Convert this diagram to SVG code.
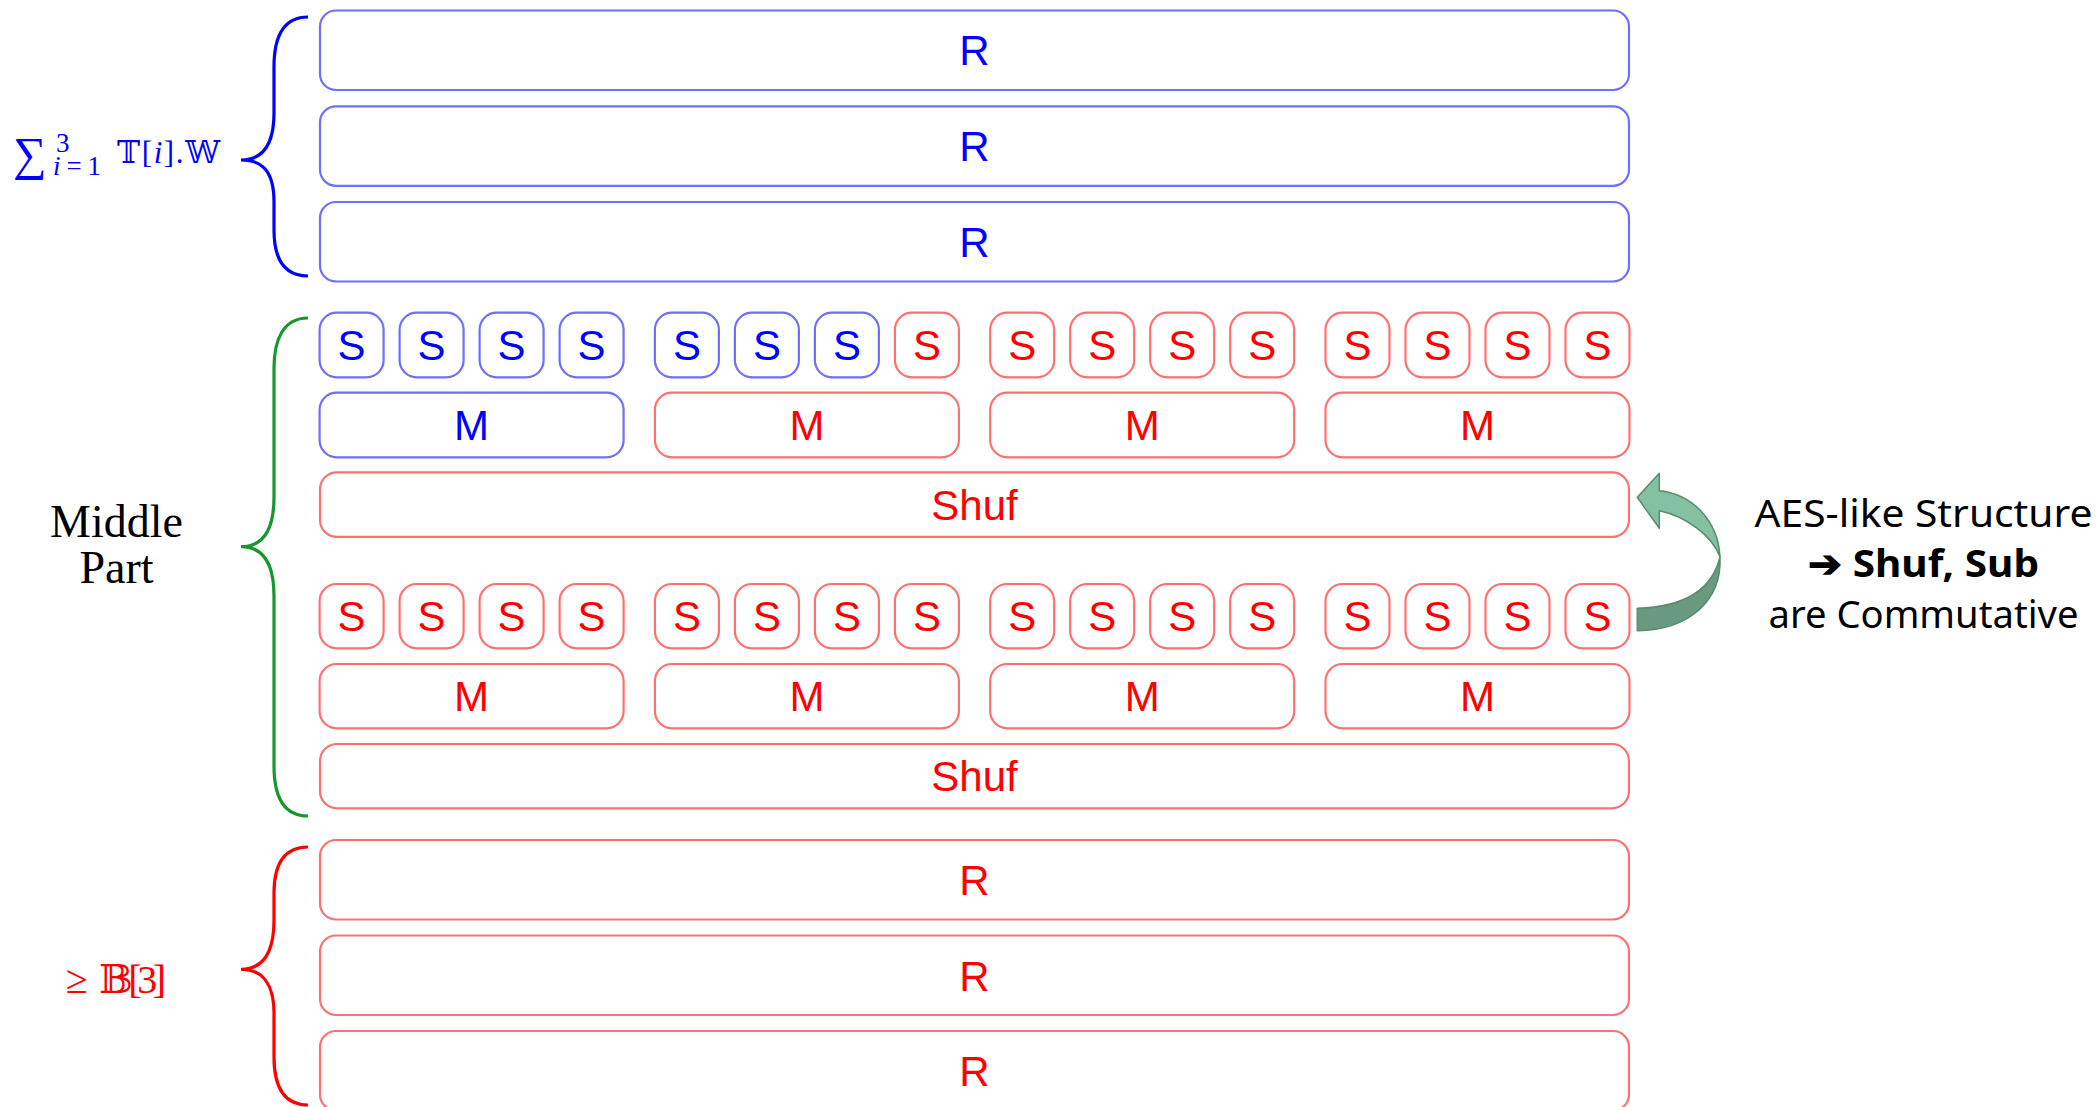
<svg xmlns="http://www.w3.org/2000/svg" width="2097" height="1107" viewBox="0 0 2097 1107">
<style>
.bb{fill:#fff;stroke:#6f6fff;stroke-width:2.2}
.rb{fill:#fff;stroke:#ff7070;stroke-width:2.2}
.bt{fill:#0000ff;font-family:"Liberation Sans",Arial,sans-serif;font-size:42px;text-anchor:middle}
.rt{fill:#ff0000;font-family:"Liberation Sans",Arial,sans-serif;font-size:42px;text-anchor:middle}
.brace{fill:none;stroke-width:3.2;stroke-linecap:butt}
.math{font-family:"Liberation Serif","DejaVu Serif",serif}
.note{fill:#000;font-family:"Noto Sans","Liberation Sans",sans-serif;font-size:38px;text-anchor:middle}
</style>
<rect width="2097" height="1107" fill="#fff"/>

<!-- braces and labels -->
<g id="label-top">
<path class="brace" stroke="#0000ff" d="M308,17 C283,17 274,38 274,67 L274,113 C274,145 263,160 241,160 C263,160 274,172 274,202 L274,230 C274,258 283,276 308,276"/>
<text class="math" x="13" y="170" font-size="47" fill="#0000ff">∑</text>
<text class="math" x="56" y="152" font-size="27" fill="#0000ff">3</text>
<text class="math" x="53" y="175" font-size="27" fill="#0000ff" textLength="48"><tspan font-style="italic">i</tspan>=1</text>
<text class="math" x="117" y="163" font-size="31" fill="#0000ff" textLength="103">𝕋[<tspan font-style="italic">i</tspan>].𝕎</text>
</g>
<g id="label-middle">
<path class="brace" stroke="#16982e" d="M308,318 C283,318 274,340 274,368 L274,497 C274,530 263,546.7 241,546.7 C263,546.7 274,563 274,596 L274,766 C274,796 283,816 308,816"/>
<text class="math" x="116.5" y="536.7" font-size="46" fill="#000" text-anchor="middle">Middle</text>
<text class="math" x="116.5" y="582.7" font-size="46" fill="#000" text-anchor="middle">Part</text>
</g>
<g id="label-bottom">
<path class="brace" stroke="#ff0000" d="M308,847 C283,847 274,866 274,893 L274,920 C274,952 263,969.3 241,969.3 C263,969.3 274,985 274,1013 L274,1057 C274,1086 283,1105 308,1105"/>
<text class="math" x="66" y="993" font-size="40" fill="#ff0000" textLength="100">≥ <tspan dx="10">𝔹[3]</tspan></text>
</g>

<!-- top R rounds -->
<g id="r-top-1"><rect class="bb" x="320" y="10.5" width="1309" height="79.5" rx="16"/><text class="bt" x="974.5" y="65.3">R</text></g>
<g id="r-top-2"><rect class="bb" x="320" y="106.3" width="1309" height="79.5" rx="16"/><text class="bt" x="974.5" y="161">R</text></g>
<g id="r-top-3"><rect class="bb" x="320" y="202" width="1309" height="79.5" rx="16"/><text class="bt" x="974.5" y="256.7">R</text></g>

<!-- S row 1 -->
<g id="s1-1"><rect class="bb" x="319.6" y="312.7" width="64" height="64.6" rx="17"/><text class="bt" x="351.6" y="360">S</text></g>
<g id="s1-2"><rect class="bb" x="399.6" y="312.7" width="64" height="64.6" rx="17"/><text class="bt" x="431.6" y="360">S</text></g>
<g id="s1-3"><rect class="bb" x="479.6" y="312.7" width="64" height="64.6" rx="17"/><text class="bt" x="511.6" y="360">S</text></g>
<g id="s1-4"><rect class="bb" x="559.6" y="312.7" width="64" height="64.6" rx="17"/><text class="bt" x="591.6" y="360">S</text></g>
<g id="s1-5"><rect class="bb" x="654.9" y="312.7" width="64" height="64.6" rx="17"/><text class="bt" x="686.9" y="360">S</text></g>
<g id="s1-6"><rect class="bb" x="734.9" y="312.7" width="64" height="64.6" rx="17"/><text class="bt" x="766.9" y="360">S</text></g>
<g id="s1-7"><rect class="bb" x="814.9" y="312.7" width="64" height="64.6" rx="17"/><text class="bt" x="846.9" y="360">S</text></g>
<g id="s1-8"><rect class="rb" x="894.9" y="312.7" width="64" height="64.6" rx="17"/><text class="rt" x="926.9" y="360">S</text></g>
<g id="s1-9"><rect class="rb" x="990.2" y="312.7" width="64" height="64.6" rx="17"/><text class="rt" x="1022.2" y="360">S</text></g>
<g id="s1-10"><rect class="rb" x="1070.2" y="312.7" width="64" height="64.6" rx="17"/><text class="rt" x="1102.2" y="360">S</text></g>
<g id="s1-11"><rect class="rb" x="1150.2" y="312.7" width="64" height="64.6" rx="17"/><text class="rt" x="1182.2" y="360">S</text></g>
<g id="s1-12"><rect class="rb" x="1230.2" y="312.7" width="64" height="64.6" rx="17"/><text class="rt" x="1262.2" y="360">S</text></g>
<g id="s1-13"><rect class="rb" x="1325.5" y="312.7" width="64" height="64.6" rx="17"/><text class="rt" x="1357.5" y="360">S</text></g>
<g id="s1-14"><rect class="rb" x="1405.5" y="312.7" width="64" height="64.6" rx="17"/><text class="rt" x="1437.5" y="360">S</text></g>
<g id="s1-15"><rect class="rb" x="1485.5" y="312.7" width="64" height="64.6" rx="17"/><text class="rt" x="1517.5" y="360">S</text></g>
<g id="s1-16"><rect class="rb" x="1565.5" y="312.7" width="64" height="64.6" rx="17"/><text class="rt" x="1597.5" y="360">S</text></g>

<!-- M row 1 -->
<g id="m1-1"><rect class="bb" x="319.6" y="392.7" width="304" height="64.6" rx="17"/><text class="bt" x="471.6" y="440">M</text></g>
<g id="m1-2"><rect class="rb" x="654.9" y="392.7" width="304" height="64.6" rx="17"/><text class="rt" x="806.9" y="440">M</text></g>
<g id="m1-3"><rect class="rb" x="990.2" y="392.7" width="304" height="64.6" rx="17"/><text class="rt" x="1142.2" y="440">M</text></g>
<g id="m1-4"><rect class="rb" x="1325.5" y="392.7" width="304" height="64.6" rx="17"/><text class="rt" x="1477.5" y="440">M</text></g>

<g id="shuf-1"><rect class="rb" x="320" y="472.3" width="1309" height="64.6" rx="17"/><text class="rt" x="974.5" y="520">Shuf</text></g>

<!-- S row 2 -->
<g id="s2-1"><rect class="rb" x="319.6" y="584" width="64" height="64.3" rx="17"/><text class="rt" x="351.6" y="631.2">S</text></g>
<g id="s2-2"><rect class="rb" x="399.6" y="584" width="64" height="64.3" rx="17"/><text class="rt" x="431.6" y="631.2">S</text></g>
<g id="s2-3"><rect class="rb" x="479.6" y="584" width="64" height="64.3" rx="17"/><text class="rt" x="511.6" y="631.2">S</text></g>
<g id="s2-4"><rect class="rb" x="559.6" y="584" width="64" height="64.3" rx="17"/><text class="rt" x="591.6" y="631.2">S</text></g>
<g id="s2-5"><rect class="rb" x="654.9" y="584" width="64" height="64.3" rx="17"/><text class="rt" x="686.9" y="631.2">S</text></g>
<g id="s2-6"><rect class="rb" x="734.9" y="584" width="64" height="64.3" rx="17"/><text class="rt" x="766.9" y="631.2">S</text></g>
<g id="s2-7"><rect class="rb" x="814.9" y="584" width="64" height="64.3" rx="17"/><text class="rt" x="846.9" y="631.2">S</text></g>
<g id="s2-8"><rect class="rb" x="894.9" y="584" width="64" height="64.3" rx="17"/><text class="rt" x="926.9" y="631.2">S</text></g>
<g id="s2-9"><rect class="rb" x="990.2" y="584" width="64" height="64.3" rx="17"/><text class="rt" x="1022.2" y="631.2">S</text></g>
<g id="s2-10"><rect class="rb" x="1070.2" y="584" width="64" height="64.3" rx="17"/><text class="rt" x="1102.2" y="631.2">S</text></g>
<g id="s2-11"><rect class="rb" x="1150.2" y="584" width="64" height="64.3" rx="17"/><text class="rt" x="1182.2" y="631.2">S</text></g>
<g id="s2-12"><rect class="rb" x="1230.2" y="584" width="64" height="64.3" rx="17"/><text class="rt" x="1262.2" y="631.2">S</text></g>
<g id="s2-13"><rect class="rb" x="1325.5" y="584" width="64" height="64.3" rx="17"/><text class="rt" x="1357.5" y="631.2">S</text></g>
<g id="s2-14"><rect class="rb" x="1405.5" y="584" width="64" height="64.3" rx="17"/><text class="rt" x="1437.5" y="631.2">S</text></g>
<g id="s2-15"><rect class="rb" x="1485.5" y="584" width="64" height="64.3" rx="17"/><text class="rt" x="1517.5" y="631.2">S</text></g>
<g id="s2-16"><rect class="rb" x="1565.5" y="584" width="64" height="64.3" rx="17"/><text class="rt" x="1597.5" y="631.2">S</text></g>

<!-- M row 2 -->
<g id="m2-1"><rect class="rb" x="319.6" y="664" width="304" height="64.3" rx="17"/><text class="rt" x="471.6" y="711.2">M</text></g>
<g id="m2-2"><rect class="rb" x="654.9" y="664" width="304" height="64.3" rx="17"/><text class="rt" x="806.9" y="711.2">M</text></g>
<g id="m2-3"><rect class="rb" x="990.2" y="664" width="304" height="64.3" rx="17"/><text class="rt" x="1142.2" y="711.2">M</text></g>
<g id="m2-4"><rect class="rb" x="1325.5" y="664" width="304" height="64.3" rx="17"/><text class="rt" x="1477.5" y="711.2">M</text></g>

<g id="shuf-2"><rect class="rb" x="320" y="744" width="1309" height="64.3" rx="17"/><text class="rt" x="974.5" y="791.2">Shuf</text></g>

<!-- bottom R rounds -->
<g id="r-bot-1"><rect class="rb" x="320" y="840" width="1309" height="79.5" rx="16"/><text class="rt" x="974.5" y="895">R</text></g>
<g id="r-bot-2"><rect class="rb" x="320" y="935.5" width="1309" height="79.5" rx="16"/><text class="rt" x="974.5" y="990.5">R</text></g>
<g id="r-bot-3"><rect class="rb" x="320" y="1031" width="1309" height="79.5" rx="16"/><text class="rt" x="974.5" y="1086">R</text></g>

<!-- connectors -->
<g id="connectors">
<path d="M1720,557 C1722,600 1690,630 1637.3,630.7 L1637.3,608.3 C1685,607 1712,590 1720,557 Z" fill="#679a7f" stroke="#5a8a70" stroke-width="1.5" stroke-linejoin="round"/>
<path d="M1637.3,497.3 L1659.3,473.3 L1659.3,490.7 C1692,494 1718,520 1720,557 C1712,535 1685,516 1659.3,510.7 L1659.3,528.3 Z" fill="#84c0a2" stroke="#5a8a70" stroke-width="1.5" stroke-linejoin="round"/>
</g>

<g id="note">
<text class="note" x="1923.5" y="526.7" textLength="338" lengthAdjust="spacingAndGlyphs">AES-like Structure</text>
<text class="note" x="1923.5" y="576.7" font-weight="bold" textLength="231" lengthAdjust="spacingAndGlyphs">➔ Shuf, Sub</text>
<text class="note" x="1923.5" y="628.3" textLength="310" lengthAdjust="spacingAndGlyphs">are Commutative</text>
</g>
</svg>
